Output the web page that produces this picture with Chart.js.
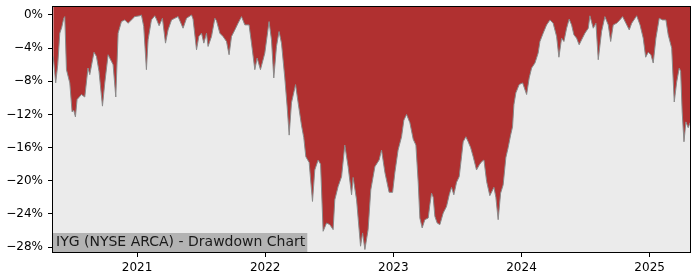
<!DOCTYPE html>
<html>
<head>
<meta charset="utf-8">
<script src="https://cdn.jsdelivr.net/npm/chart.js@4/dist/chart.umd.min.js"></script>
<style>
html,body{margin:0;padding:0;background:#fff;}
#wrap{width:700px;height:280px;position:relative;}
</style>
</head>
<body>
<div id="wrap"><canvas id="c"></canvas></div>
<script>
const chartTitle = "IYG (NYSE ARCA) - Drawdown Chart";
const yearTicks = [2021, 2022, 2023, 2024, 2025];
const pctTicks = [0, -4, -8, -12, -16, -20, -24, -28];
const dates = [
2020.346,2020.365,2020.381,2020.397,2020.412,2020.428,2020.436,2020.449,2020.475,2020.493,
2020.506,2020.519,2020.532,2020.566,2020.592,2020.617,2020.631,2020.664,2020.683,2020.703,
2020.730,2020.748,2020.774,2020.800,2020.813,2020.834,2020.852,2020.878,2020.904,2020.930,
2020.956,2020.982,2021.021,2021.034,2021.052,2021.073,2021.086,2021.112,2021.138,2021.151,
2021.172,2021.198,2021.222,2021.242,2021.269,2021.294,2021.320,2021.359,2021.386,2021.425,
2021.437,2021.464,2021.482,2021.503,2021.521,2021.542,2021.554,2021.581,2021.607,2021.620,
2021.646,2021.671,2021.698,2021.718,2021.737,2021.763,2021.788,2021.815,2021.841,2021.874,
2021.893,2021.919,2021.937,2021.963,2021.997,2022.030,2022.049,2022.067,2022.088,2022.108,
2022.127,2022.153,2022.171,2022.187,2022.205,2022.237,2022.257,2022.283,2022.301,2022.317,
2022.343,2022.369,2022.387,2022.413,2022.432,2022.452,2022.479,2022.504,2022.530,2022.543,
2022.569,2022.596,2022.621,2022.647,2022.674,2022.686,2022.713,2022.744,2022.760,2022.778,
2022.803,2022.824,2022.856,2022.889,2022.908,2022.934,2022.967,2022.994,2023.012,2023.037,
2023.064,2023.082,2023.103,2023.129,2023.155,2023.176,2023.194,2023.207,2023.225,2023.246,
2023.272,2023.285,2023.298,2023.311,2023.324,2023.342,2023.363,2023.389,2023.415,2023.436,
2023.454,2023.472,2023.493,2023.514,2023.532,2023.545,2023.566,2023.584,2023.603,2023.623,
2023.649,2023.670,2023.689,2023.707,2023.728,2023.753,2023.785,2023.800,2023.818,2023.837,
2023.857,2023.878,2023.896,2023.915,2023.930,2023.941,2023.956,2023.982,2024.009,2024.040,
2024.060,2024.079,2024.105,2024.130,2024.144,2024.169,2024.196,2024.222,2024.247,2024.274,
2024.292,2024.313,2024.331,2024.352,2024.372,2024.391,2024.409,2024.430,2024.450,2024.469,
2024.495,2024.521,2024.534,2024.560,2024.581,2024.599,2024.625,2024.651,2024.677,2024.696,
2024.716,2024.742,2024.768,2024.789,2024.815,2024.841,2024.860,2024.899,2024.925,2024.950,
2024.969,2024.989,2025.010,2025.028,2025.049,2025.075,2025.101,2025.127,2025.145,2025.172,
2025.192,2025.211,2025.231,2025.242,2025.254,2025.268,2025.283,2025.301,2025.315
];
const drawdown = [
-5.0,-8.2,-6.0,-2.2,-1.5,-0.4,-0.2,-6.6,-8.2,-11.7,
-11.5,-12.3,-10.2,-9.6,-9.9,-6.4,-7.2,-4.5,-5.0,-6.8,
-11.0,-8.2,-4.8,-5.6,-6.0,-9.9,-2.2,-0.8,-0.6,-1.0,
-0.6,-0.2,-0.1,0.0,-1.4,-6.6,-3.0,-0.6,-0.1,-0.5,
-1.3,-0.4,-3.4,-1.8,-0.6,-0.4,-0.2,-1.6,-0.4,0.0,
-0.5,-4.2,-2.6,-2.2,-3.4,-2.2,-3.8,-2.6,-0.4,-0.7,
-2.2,-2.6,-3.2,-4.8,-2.6,-1.8,-1.0,-0.2,-1.2,-1.2,
-3.4,-6.6,-5.2,-6.6,-4.6,-0.8,-3.0,-7.6,-3.8,-2.0,
-3.4,-7.6,-11.0,-14.5,-10.6,-8.4,-10.6,-13.3,-14.8,-17.1,
-17.8,-22.5,-18.7,-17.5,-18.0,-26.1,-25.1,-25.3,-25.9,-22.3,
-20.7,-19.5,-15.7,-18.3,-21.7,-19.6,-22.3,-27.9,-26.3,-28.3,
-25.9,-21.1,-18.3,-17.5,-16.3,-19.0,-21.4,-21.4,-19.0,-16.3,
-14.7,-12.7,-12.0,-13.0,-15.0,-15.7,-20.2,-24.5,-25.7,-24.7,
-24.5,-22.9,-21.5,-22.0,-24.3,-25.1,-25.3,-23.9,-23.1,-21.7,
-20.8,-21.7,-20.2,-19.5,-17.1,-15.3,-14.7,-15.3,-16.0,-17.1,
-18.7,-18.1,-17.7,-17.5,-20.1,-21.8,-20.8,-22.0,-24.7,-21.5,
-20.5,-17.2,-16.0,-14.5,-13.5,-10.8,-9.4,-8.4,-8.2,-9.6,
-7.6,-6.4,-5.8,-4.6,-3.2,-2.2,-1.2,-0.6,-1.0,-2.6,
-5.1,-2.8,-3.2,-1.6,-0.5,-1.2,-2.4,-2.8,-3.6,-3.0,
-2.2,-1.6,-0.1,-1.6,-1.0,-5.4,-2.0,-0.2,-1.2,-3.2,
-1.2,-1.0,-0.6,-0.2,-1.0,-1.8,-1.0,-0.1,-1.2,-2.8,
-5.1,-4.5,-4.8,-5.8,-2.8,-0.4,-0.6,-0.6,-2.4,-4.0,
-10.5,-8.1,-6.4,-6.8,-11.7,-15.3,-12.9,-13.6,-13.0
];

const points = dates.map((d, i) => ({x: d, y: drawdown[i]}));

const FONT = "'DejaVu Sans', sans-serif";

const bgPlugin = {
  id: 'bg',
  beforeDatasetsDraw(chart) {
    const {ctx, chartArea: a} = chart;
    ctx.save();
    ctx.fillStyle = '#ebebeb';
    ctx.fillRect(a.left, a.top, a.right - a.left, a.bottom - a.top);
    ctx.restore();
  },
  afterDraw(chart) {
    const {ctx, chartArea: a} = chart;
    ctx.save();
    ctx.font = "14px " + FONT;
    const w = ctx.measureText(chartTitle).width;
    ctx.fillStyle = '#b3b3b3';
    ctx.fillRect(a.left, a.bottom - 19, w + 5, 19);
    ctx.fillStyle = '#1a1a1a';
    ctx.textBaseline = 'middle';
    ctx.textAlign = 'left';
    ctx.fillText(chartTitle, a.left + 3, a.bottom - 9.5);
    ctx.strokeStyle = '#000';
    ctx.lineWidth = 1;
    ctx.strokeRect(a.left - 0.5, a.top - 0.5, a.right - a.left + 1, a.bottom - a.top + 1);
    ctx.restore();
  }
};

new Chart(document.getElementById('c'), {
  type: 'line',
  data: {
    datasets: [{
      data: points,
      borderColor: '#8a8a8a',
      borderWidth: 1,
      backgroundColor: '#b03030',
      fill: 'end',
      pointRadius: 0,
      tension: 0
    }]
  },
  plugins: [bgPlugin],
  options: {
    responsive: true,
    maintainAspectRatio: false,
    animation: false,
    devicePixelRatio: 1,
    layout: {padding: {top: 7, right: 10, left: 0, bottom: 0}},
    plugins: {legend: {display: false}, tooltip: {enabled: false}},
    scales: {
      x: {
        type: 'linear',
        min: 2020.344,
        max: 2025.315,
        afterBuildTicks(scale) { scale.ticks = yearTicks.map(v => ({value: v})); },
        afterFit(scale) { scale.height = 28; scale.paddingLeft = 0; scale.paddingRight = 0; },
        grid: {drawOnChartArea: false, drawTicks: true, tickLength: 5, tickColor: '#000', tickWidth: 1},
        border: {display: false},
        ticks: {
          color: '#000',
          font: {family: FONT, size: 12},
          padding: 4,
          maxRotation: 0,
          autoSkip: false,
          callback: v => String(v)
        }
      },
      y: {
        min: -28.6,
        max: 0.96,
        afterBuildTicks(scale) { scale.ticks = pctTicks.map(v => ({value: v})); },
        afterFit(scale) { scale.width = 53; scale.paddingTop = 0; scale.paddingBottom = 0; },
        grid: {drawOnChartArea: false, drawTicks: true, tickLength: 5, tickColor: '#000', tickWidth: 1},
        border: {display: false},
        ticks: {
          color: '#000',
          font: {family: FONT, size: 12},
          padding: 5,
          autoSkip: false,
          callback: v => (v < 0 ? '\u2212' + Math.abs(v) : String(v)) + '%'
        }
      }
    }
  }
});
</script>
</body>
</html>
